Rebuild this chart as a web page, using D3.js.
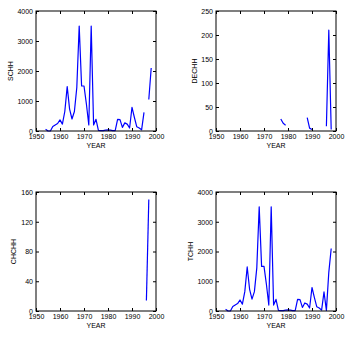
<!DOCTYPE html>
<html>
<head>
<meta charset="utf-8">
<script src="https://cdn.jsdelivr.net/npm/d3@7/dist/d3.min.js"></script>
<style>
  html, body { margin: 0; padding: 0; background: #fff; }
  svg { display: block; }
  text { font-family: "Liberation Sans", Arial, sans-serif; font-size: 7px; fill: #000; }
</style>
</head>
<body>
<svg id="chart" width="352" height="340"></svg>
<script>
// ---- data ----
const years = d3.range(1954, 1999); // 1954..1998
const xTicks = [1950, 1960, 1970, 1980, 1990, 2000];

const schh = [60,0,0,150,200,250,370,230,650,1480,730,400,650,1450,3500,1500,1500,900,200,3500,
              200,390,20,10,10,30,40,30,10,10,390,380,120,270,230,100,790,450,140,100,40,620,null,1050,2100];
const dechh = [null,null,null,null,null,null,null,null,null,null,null,null,null,null,null,null,null,null,null,null,
               null,null,null,25,16,12,null,null,null,null,null,null,null,null,28,6,3,null,null,null,null,null,10,210,3];
const chchh = [null,null,null,null,null,null,null,null,null,null,null,null,null,null,null,null,null,null,null,null,
               null,null,null,null,null,null,null,null,null,null,null,null,null,null,null,null,null,null,null,null,null,null,14,150,null];
const tchh = [60,0,0,150,200,250,370,230,650,1480,730,400,650,1450,3500,1500,1500,900,200,3500,
              200,390,20,10,10,30,40,30,10,10,390,380,120,270,230,100,790,450,140,100,30,640,20,1300,2100];

const schhTicks = [0, 1000, 2000, 3000, 4000];
const dechhTicks = [0, 50, 100, 150, 200, 250];
const chchhTicks = [0, 40, 80, 120, 160];
const tchhTicks = [0, 1000, 2000, 3000, 4000];

const panels = [
  { name: "SCHH",  values: schh,  ticks: schhTicks,  left: 36,  top: 11,  w: 120, h: 120, labOff: 23 },
  { name: "DECHH", values: dechh, ticks: dechhTicks, left: 216, top: 11,  w: 120, h: 120, labOff: 19 },
  { name: "CHCHH", values: chchh, ticks: chchhTicks, left: 36,  top: 192, w: 120, h: 119, labOff: 20 },
  { name: "TCHH",  values: tchh,  ticks: tchhTicks,  left: 216, top: 192, w: 120, h: 119, labOff: 23 }
];

const svg = d3.select("#chart");

panels.forEach(p => {
  const g = svg.append("g").attr("transform", `translate(${p.left},${p.top})`);
  const x = d3.scaleLinear().domain([1950, 2000]).range([0, p.w]);
  const y = d3.scaleLinear().domain([0, d3.max(p.ticks)]).range([p.h, 0]);

  const data = years.map((yr, i) => ({ year: yr, v: p.values[i] }));
  const line = d3.line()
    .defined(d => d.v !== null)
    .x(d => x(d.year))
    .y(d => y(d.v));

  g.append("path")
    .datum(data)
    .attr("fill", "none")
    .attr("stroke", "#0000ff")
    .attr("stroke-width", 1.2)
    .attr("stroke-linejoin", "round")
    .attr("d", line);

  const styleAxis = sel => {
    sel.select(".domain").remove();
    sel.selectAll(".tick line").attr("stroke", "#000");
    sel.selectAll(".tick text").attr("fill", "#000").style("font-size", "7px");
  };

  g.append("g").attr("transform", `translate(0,${p.h})`)
    .call(d3.axisBottom(x).tickValues(xTicks).tickFormat(d3.format("d")).tickSize(-3).tickPadding(3))
    .call(styleAxis);
  g.append("g")
    .call(d3.axisTop(x).tickValues(xTicks).tickFormat("").tickSize(-3))
    .call(styleAxis);
  g.append("g")
    .call(d3.axisLeft(y).tickValues(p.ticks).tickFormat(d3.format("d")).tickSize(-3).tickPadding(3))
    .call(styleAxis);
  g.append("g").attr("transform", `translate(${p.w},0)`)
    .call(d3.axisRight(y).tickValues(p.ticks).tickFormat("").tickSize(-3))
    .call(styleAxis);

  g.append("rect")
    .attr("x", 0).attr("y", 0).attr("width", p.w).attr("height", p.h)
    .attr("fill", "none").attr("stroke", "#000").attr("stroke-width", 1);

  g.append("text")
    .attr("x", p.w / 2).attr("y", p.h + 17)
    .attr("text-anchor", "middle")
    .text("YEAR");

  g.append("text")
    .attr("transform", `translate(${-p.labOff},${p.h / 2}) rotate(-90)`)
    .attr("text-anchor", "middle")
    .text(p.name);
});
</script>
</body>
</html>
